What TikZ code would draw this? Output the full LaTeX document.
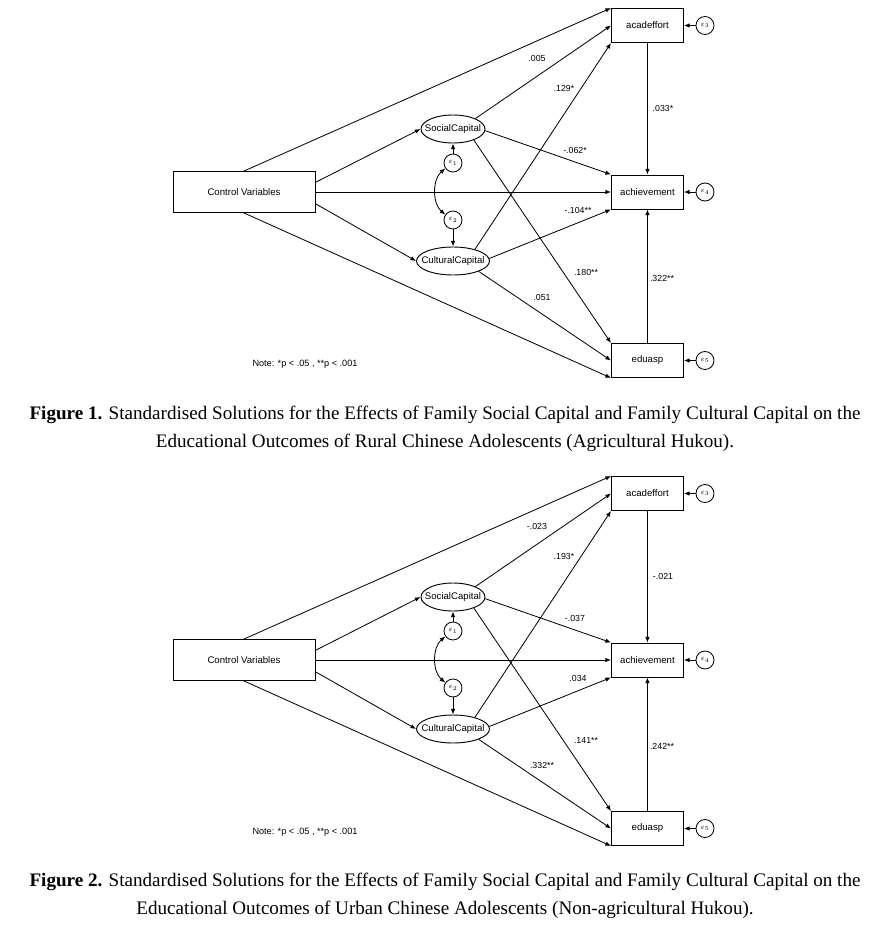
\documentclass[tikz,border=0pt]{standalone}
\usepackage{fontspec}
\setmainfont{Liberation Serif}
\setsansfont{Liberation Sans}
\usetikzlibrary{arrows.meta,shapes.geometric,calc}

% one path model, coefficients as arguments
\newcommand{\pathmodel}[8]{%
  \node[varbox, minimum width=4.26cm, minimum height=1.23cm] (cv) at (244,192) {Control Variables};
  \node[varbox, anchor=west] (acad) at (611,25.5) {acadeffort};
  \node[varbox, anchor=west] (ach) at (611,192) {achievement};
  \node[varbox, anchor=west] (edu) at (611,360.5) {eduasp};
  \node[latent, minimum width=1.92cm] (sc) at (453,129) {SocialCapital};
  \node[latent, minimum width=2.19cm] (cc) at (453,261) {CulturalCapital};
  \node[err] (e1) at (453,163) {$\varepsilon_1$};
  \node[err] (e2) at (453,220) {$\varepsilon_2$};
  \node[err] (e3) at (705,25.5) {$\varepsilon_3$};
  \node[err] (e4) at (705,192) {$\varepsilon_4$};
  \node[err] (e5) at (705,360.5) {$\varepsilon_5$};
  \node[note] (nt) at (305,364) {Note: *p < .05 , **p < .001};

  \draw[arrow] (cv.north) -- (acad.north west);
  \draw[arrow] ($(cv.north east)!.27!(cv.south east)$) -- (sc.west);
  \draw[arrow] (cv.east) -- (ach.west);
  \draw[arrow] ($(cv.north east)!.78!(cv.south east)$) -- (cc.west);
  \draw[arrow] (cv.south) -- (edu.south west);
  \draw[arrow] (sc.25) -- (acad.west);
  \draw[arrow] (sc.-3) -- (ach.north west);
  \draw[arrow] (sc.-28) -- (edu.north west);
  \draw[arrow] (cc.28) -- (acad.south west);
  \draw[arrow] (cc.4) -- (ach.south west);
  \draw[arrow] (cc.-22) -- (edu.west);
  \draw[arrow] (acad.south) -- (ach.north);
  \draw[arrow] (edu.north) -- (ach.south);
  \draw[arrow] (e1) -- (sc);
  \draw[arrow] (e2) -- (cc);
  \draw[arrow] (e3) -- (acad);
  \draw[arrow] (e4) -- (ach);
  \draw[arrow] (e5) -- (edu);
  \draw[cov] (e1.215) .. controls +(-13,11) and +(-13,-11) .. (e2.145);

  \node[coef] (c1) at (537,58) {#1};
  \node[coef] (c2) at (564,88) {#2};
  \node[coef] (c3) at (663,108) {#3};
  \node[coef] (c4) at (575,150) {#4};
  \node[coef] (c5) at (578,210) {#5};
  \node[coef] (c6) at (586,272) {#6};
  \node[coef] (c7) at (662,278) {#7};
  \node[coef] (c8) at (542,297) {#8};
}

\begin{document}
\begin{tikzpicture}[x=0.03cm, y=-0.03cm,
    varbox/.style={draw, line width=0.8pt, minimum width=2.16cm, minimum height=1.02cm, inner sep=0pt, font=\sffamily\fontsize{8.2}{9.8}\selectfont},
    latent/.style={draw, ellipse, line width=0.8pt, minimum height=0.84cm, inner xsep=-6pt, inner ysep=0pt, font=\sffamily\fontsize{8.2}{9.8}\selectfont},
    err/.style={draw, circle, line width=0.7pt, minimum size=0.54cm, inner sep=0pt, font=\fontsize{6}{6}\selectfont},
    coef/.style={font=\sffamily\fontsize{7.5}{9}\selectfont, inner sep=1pt},
    note/.style={font=\sffamily\fontsize{7.8}{9}\selectfont},
    caption/.style={align=center, font=\fontsize{16.3}{23.8}\selectfont},
    arrow/.style={-{Latex[length=4.8pt, width=3.8pt]}, line width=0.7pt},
    cov/.style={{Latex[length=4.8pt, width=3.8pt]}-{Latex[length=4.8pt, width=3.8pt]}, line width=0.7pt}
]
\useasboundingbox (0,0) rectangle (878,930);

\begin{scope}[name prefix=rural-]
  \pathmodel{.005}{.129*}{.033*}{-.062*}{-.104**}{.180**}{.322**}{.051}
\end{scope}
\node[caption] (cap1) at (445,429) {\textbf{Figure 1.} Standardised Solutions for the Effects of Family Social Capital and Family Cultural Capital on the\\Educational Outcomes of Rural Chinese Adolescents (Agricultural Hukou).};

\begin{scope}[shift={(0,468)}, name prefix=urban-]
  \pathmodel{-.023}{.193*}{-.021}{-.037}{.034}{.141**}{.242**}{.332**}
\end{scope}
\node[caption] (cap2) at (445,896) {\textbf{Figure 2.} Standardised Solutions for the Effects of Family Social Capital and Family Cultural Capital on the\\Educational Outcomes of Urban Chinese Adolescents (Non-agricultural Hukou).};
\end{tikzpicture}
\end{document}
